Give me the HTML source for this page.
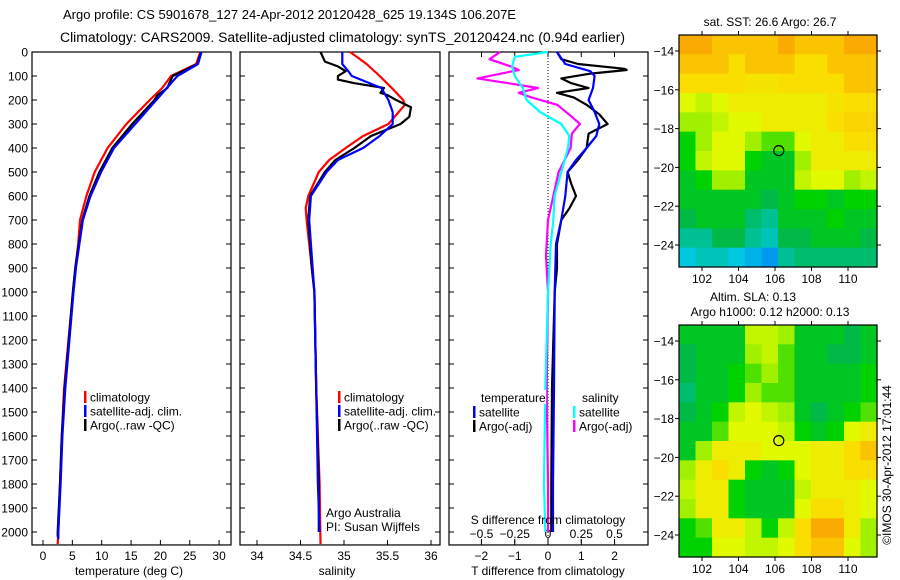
<!DOCTYPE html>
<html><head><meta charset="utf-8">
<style>
html,body{margin:0;padding:0;background:#fff;}
svg{display:block;font-family:"Liberation Sans",sans-serif;}
text{fill:#000;}
</style></head>
<body>
<svg id="fig" width="900" height="580" viewBox="0 0 900 580">
<text x="63" y="19" font-size="13" textLength="453" lengthAdjust="spacingAndGlyphs">Argo profile: CS 5901678_127 24-Apr-2012 20120428_625 19.134S 106.207E</text>
<text x="60" y="42" font-size="13.5" textLength="565" lengthAdjust="spacingAndGlyphs">Climatology: CARS2009. Satellite-adjusted climatology: synTS_20120424.nc (0.94d earlier)</text>
<g id="p1"></g>
<g id="p2"></g>
<g id="p3"></g>
<g id="m1"></g>
<g id="m2"></g>
<text transform="translate(891,465) rotate(-90)" font-size="12" text-anchor="middle">©IMOS 30-Apr-2012 17:01:44</text>
</svg>
<script>
// ---------- profile data ----------
const tClimDepth=[0,50,100,150,200,300,400,500,600,700,800,900,1000,1400,1600,1800,2000,2050];
const tClim=[26.8,26.1,21.8,20.3,18.2,14.2,11.0,8.8,7.4,6.3,6.0,5.5,5.1,3.6,3.2,2.9,2.6,2.5];
const tSatDepth=[0,50,100,200,300,400,500,600,700,800,900,1000,1400,1600,1800,2000,2030];
const tSat=[27.0,26.4,22.9,19.3,15.7,12.1,9.9,8.1,6.8,6.2,5.6,5.2,3.8,3.3,3.0,2.6,2.6];
const tArgoDepth=[0,50,100,130,150,180,200,300,400,500,600,700,800,900,1000,1400,1600,1800,2000,2020];
const tArgo=[26.9,26.3,22.1,21.5,21.2,19.5,19.0,15.2,11.8,9.6,7.9,6.7,6.1,5.5,5.1,3.7,3.2,2.9,2.5,2.5];

const sClimDepth=[0,50,100,150,200,220,300,350,400,450,500,600,650,700,1000,1400,1800,2050];
const sClim=[35.07,35.26,35.41,35.55,35.68,35.70,35.51,35.22,35.02,34.83,34.71,34.59,34.56,34.57,34.66,34.68,34.72,34.73];
const sSatDepth=[0,50,80,100,150,200,250,300,350,400,450,500,600,700,800,1000,1400,1800,2000];
const sSat=[34.98,34.98,35.05,35.09,35.43,35.51,35.56,35.56,35.41,35.22,34.93,34.80,34.62,34.60,34.62,34.66,34.68,34.70,34.72];
const sArgoDepth=[0,40,60,80,100,115,130,150,170,180,200,230,270,300,350,400,450,500,600,700,800,900,1000,1400,1800,2000];
const sArgo=[34.73,34.78,34.93,35.02,34.93,34.93,35.12,35.46,35.42,35.50,35.60,35.77,35.75,35.65,35.31,35.12,34.90,34.78,34.61,34.59,34.61,34.63,34.66,34.68,34.71,34.71];

const dTSatDepth=[0,50,80,100,150,200,250,300,350,400,450,500,600,700,800,1000,1400,1800,2000];
const dTSat=[0.27,0.52,1.27,1.40,1.35,1.22,1.40,1.54,1.45,1.16,0.84,0.59,0.52,0.40,0.24,0.20,0.18,0.15,0.15];
const dTArgoDepth=[0,30,50,70,75,90,110,130,150,170,190,220,260,300,340,400,450,500,550,600,650,700,800,900,1000,1400,1800,2000];
const dTArgo=[0.27,0.40,0.90,2.30,2.36,1.28,0.40,0.70,1.22,0.27,0.78,1.16,1.54,1.79,1.22,1.16,0.90,0.59,0.70,0.84,0.65,0.40,0.27,0.27,0.20,0.12,0.10,0.10];
const dSSatDepth=[0,20,60,100,150,200,250,300,350,400,500,600,700,800,1000,1400,1800,2000];
const dSSat=[0.0,-0.25,-0.27,-0.25,-0.19,-0.16,-0.06,0.10,0.16,0.15,0.10,0.05,0.04,0.02,0.0,-0.02,-0.03,-0.02];
const dSArgoDepth=[0,30,60,75,110,130,150,170,190,220,270,300,340,400,500,600,700,850,1000,1400,1800,2000];
const dSArgo=[-0.36,-0.44,-0.28,-0.22,-0.53,-0.30,-0.075,-0.22,-0.12,0.07,0.18,0.24,0.18,0.17,0.08,0.04,0.0,-0.015,0.0,-0.01,0.0,0.0];

const depthTicks=[0,100,200,300,400,500,600,700,800,900,1000,1100,1200,1300,1400,1500,1600,1700,1800,1900,2000];
const tTicks=[0,5,10,15,20,25,30];
const sTicks=[34,34.5,35,35.5,36];
const sTickLabels=["34","34.5","35","35.5","36"];
const dTTicks=[-2,-1,0,1,2];
const dSTicks=[-0.5,-0.25,0,0.25,0.5];
const dSTickLabels=["\u22120.5","\u22120.25","0","0.25","0.5"];

// ---------- map data (values 0..10 on colour scale) ----------
const sstGrid=[
[9,9,8.5,8.5,8.5,8.5,9,8.5,8.5,8.5,9,9],
[8.5,8.5,8.5,8,8.5,8.5,8.5,8,8,8.5,8.5,8.5],
[8,8,8,8,7.8,7.8,8,8,8,8,8.5,8.5],
[7,6.5,7,7.5,7.5,7.5,7.5,7.5,7.5,7.8,8,8],
[6,6,6.5,7,7,7.5,7.5,7.5,7.5,8,8.2,8.2],
[5,6,7,7,6,5.5,5.5,7,7.5,7.5,8,8],
[5,6.5,7,7,5,4.5,4.5,6,7.5,7.5,7.5,7.5],
[4.5,5,6,6,4.5,4.5,4.5,6.5,7,7,6,6.5],
[4.5,4.5,4.5,4.5,4.5,4,4.5,5,5,4.5,5,5],
[4,4.5,4.5,4.5,3.5,3,4.5,4.5,4.5,5,4.5,4.5],
[3,3,4,4,3,2.5,4,4,4.5,4.5,4.5,4],
[2,2.5,2.5,2,1.5,1,3,3.5,3.5,3.5,3.5,3.5]];
const slaGrid=[
[4.5,4.5,4.5,4.5,6.5,6.5,6,4.5,4.5,4.5,4,4.5],
[4,4.5,4.5,4.5,6,6.5,5.5,4.5,4.5,4,4,4.5],
[4,4.5,4.5,5,5.5,6,5.5,4.5,4.5,4.5,4.5,5],
[3.5,4.5,4.5,5,6,5.5,5.5,4.5,4.5,4.5,4.5,5],
[4,4.5,5,6.5,7,6.5,6,4.5,4,4.5,5,5.5],
[4.5,4.5,5.5,7,7,7,6.5,5,4.5,5,7,7.5],
[4.5,6,7.5,7.5,7.5,7,7,7,7.5,7.5,8,8.5],
[6,7.5,8,7.5,5,4.5,5,7,7.5,7.5,8,8],
[6.5,7.5,7.5,5,4.5,4.5,4.5,6.5,7.5,7.5,7.5,7],
[6,7.5,7.5,5,4.5,4.5,4.5,7,8,8,7.5,7],
[5,5.5,7.5,7.5,6.5,5,6.5,8,9,9,7.5,6],
[5,5,7,7,6.5,6.5,7,8,8.5,8.5,7,6]];
const lonTicks=[102,104,106,108,110];
const latTicks=[-14,-16,-18,-20,-22,-24];
const floatLon=106.207, floatLat=-19.134;

const NS='http://www.w3.org/2000/svg';
function mk(parent,tag,attrs,txt){const e=document.createElementNS(NS,tag);for(const k in attrs)e.setAttribute(k,attrs[k]);if(txt!==undefined)e.textContent=txt;parent.appendChild(e);return e;}

const Y0=52, PX_PER_DB=0.24, DMAX=2054;
const yD=d=>Y0+d*PX_PER_DB;
const PB=yD(DMAX);

function panel(g,x0,x1,leftLabels){
  const r=mk(g,'rect',{x:x0,y:Y0,width:x1-x0,height:PB-Y0,fill:'none',stroke:'#000','stroke-width':1.2});
  
  
  depthTicks.forEach(d=>{
    const y=yD(d);
    mk(g,'line',{x1:x1,x2:x1-5,y1:y,y2:y,stroke:'#000'});
    mk(g,'line',{x1:x0,x2:x0+5,y1:y,y2:y,stroke:'#000'});
    if(leftLabels){
      const t=mk(g,'text',{x:x0-4,y:y+4.5,'font-size':12,'text-anchor':'end'},String(d));
      
      
    }
  });
}
function line(g,xs,ds,xf,color,name){
  const pts=xs.map((v,i)=>xf(v).toFixed(1)+','+yD(ds[i]).toFixed(1)).join(' ');
  const p=mk(g,'polyline',{points:pts,fill:'none',stroke:color,'stroke-width':2.2,'stroke-linejoin':'round'});
  
  
}
function legend(g,x,y,items){
  items.forEach((it,i)=>{
    mk(g,'rect',{x:x,y:y+i*14-6,width:2.5,height:12,fill:it[0]});
    const t=mk(g,'text',{x:x+6,y:y+i*14+4.5,'font-size':12},it[1]);
    
    
  });
}

// Panel 1: temperature
const p1=document.getElementById('p1');
const xT=v=>43+v*5.87;
panel(p1,32,231,true);
tTicks.forEach(v=>{mk(p1,'line',{x1:xT(v),x2:xT(v),y1:PB,y2:PB-5,stroke:'#000'});
  const t=mk(p1,'text',{x:xT(v),y:PB+15,'font-size':12,'text-anchor':'middle'},String(v));
  
  });
line(p1,tClim,tClimDepth,xT,'#ff0000','temp-climatology-line');
line(p1,tArgo,tArgoDepth,xT,'#000000','temp-argo-line');
line(p1,tSat,tSatDepth,xT,'#0000ff','temp-satellite-line');
legend(p1,84,397,[['#f00','climatology'],['#00f','satellite-adj. clim.'],['#000','Argo(..raw -QC)']]);
mk(p1,'text',{x:129,y:575,'font-size':12,'text-anchor':'middle',},'temperature (deg C)');

// Panel 2: salinity
const p2=document.getElementById('p2');
const xS=v=>257+(v-34)*87;
panel(p2,240,440,false);
sTicks.forEach((v,i)=>{mk(p2,'line',{x1:xS(v),x2:xS(v),y1:PB,y2:PB-5,stroke:'#000'});
  const t=mk(p2,'text',{x:xS(v),y:PB+15,'font-size':12,'text-anchor':'middle'},sTickLabels[i]);
  
  });
line(p2,sClim,sClimDepth,xS,'#ff0000','sal-climatology-line');
line(p2,sArgo,sArgoDepth,xS,'#000000','sal-argo-line');
line(p2,sSat,sSatDepth,xS,'#0000ff','sal-satellite-line');
legend(p2,338,397,[['#f00','climatology'],['#00f','satellite-adj. clim.'],['#000','Argo(..raw -QC)']]);
mk(p2,'text',{x:326,y:517,'font-size':12,},'Argo Australia');
mk(p2,'text',{x:326,y:531,'font-size':12,},'PI: Susan Wijffels');
mk(p2,'text',{x:337,y:575,'font-size':12,'text-anchor':'middle',},'salinity');

// Panel 3: differences
const p3=document.getElementById('p3');
const xDT=v=>548+v*33.3;
const xDS=v=>548+v*133;
panel(p3,449,648,false);
mk(p3,'line',{x1:548,x2:548,y1:Y0,y2:PB,stroke:'#000','stroke-dasharray':'1,2',});
dTTicks.forEach(v=>{mk(p3,'line',{x1:xDT(v),x2:xDT(v),y1:PB,y2:PB-5,stroke:'#000'});
  const t=mk(p3,'text',{x:xDT(v),y:PB+15,'font-size':12,'text-anchor':'middle'},v<0?'\u2212'+(-v):String(v));
  
  });
dSTicks.forEach((v,i)=>{mk(p3,'line',{x1:xDS(v),x2:xDS(v),y1:Y0,y2:Y0+5,stroke:'#000'});
  mk(p3,'line',{x1:xDS(v),x2:xDS(v),y1:PB-2,y2:PB-6,stroke:'#000'});
  const t=mk(p3,'text',{x:xDS(v),y:538,'font-size':12,'text-anchor':'middle'},dSTickLabels[i]);
  
  });
line(p3,dSArgo,dSArgoDepth,xDS,'#ff00ff','sdiff-argo-line');
line(p3,dSSat,dSSatDepth,xDS,'#00ffff','sdiff-satellite-line');
line(p3,dTArgo,dTArgoDepth,xDT,'#000000','tdiff-argo-line');
line(p3,dTSat,dTSatDepth,xDT,'#0000ff','tdiff-satellite-line');
mk(p3,'rect',{x:478,y:390,width:68,height:14,fill:'#fff'});
mk(p3,'text',{x:481,y:402,'font-size':12,},'temperature');
mk(p3,'text',{x:582,y:402,'font-size':12,},'salinity');
legend(p3,473,412,[['#00f','satellite'],['#000','Argo(-adj)']]);
legend(p3,573,412,[['#0ff','satellite'],['#f0f','Argo(-adj)']]);
mk(p3,'text',{x:548,y:524,'font-size':12,'text-anchor':'middle',},'S difference from climatology');
mk(p3,'text',{x:548,y:575,'font-size':12,'text-anchor':'middle',},'T difference from climatology');

// Maps
const cstops=[[0,[0,110,255]],[2,[0,200,225]],[4,[0,185,70]],[5,[0,210,0]],[6,[160,240,0]],[7,[225,250,0]],[8,[250,222,0]],[9,[250,170,0]],[10,[240,120,0]]];
function cmap(v){for(let i=0;i<cstops.length-1;i++){const a=cstops[i],b=cstops[i+1];if(v<=b[0]){const f=Math.max(0,(v-a[0])/(b[0]-a[0]));return 'rgb('+a[1].map((c,j)=>Math.round(c+(b[1][j]-c)*f)).join(',')+')';}}return 'rgb(240,120,0)';}
function drawMap(g,grid,y0,y1){
  const x0=679,x1=877;
  const xL=lon=>702+(lon-102)*18.25;
  const yL=lat=>(y0+16)+(-14-lat)*((y1-y0)-38)/10;
  const rows=grid.length,cols=grid[0].length;
  const cw=(x1-x0)/cols,ch=(y1-y0)/rows;
  grid.forEach((row,r)=>row.forEach((v,c)=>{
    const cell=mk(g,'rect',{x:(x0+c*cw).toFixed(2),y:(y0+r*ch).toFixed(2),width:(cw+0.6).toFixed(2),height:(ch+0.6).toFixed(2),fill:cmap(v)});
    
    
  }));
  mk(g,'rect',{x:x0,y:y0,width:x1-x0,height:y1-y0,fill:'none',stroke:'#000','stroke-width':1.2});
  lonTicks.forEach(l=>{const x=xL(l);
    mk(g,'line',{x1:x,x2:x,y1:y1,y2:y1+4,stroke:'#000'});
    mk(g,'line',{x1:x,x2:x,y1:y0,y2:y0-4,stroke:'#000'});
    const t=mk(g,'text',{x:x,y:y1+16,'font-size':12,'text-anchor':'middle'},String(l));
    
    });
  latTicks.forEach(l=>{const y=yL(l);
    mk(g,'line',{x1:x0,x2:x0-4,y1:y,y2:y,stroke:'#000'});
    mk(g,'line',{x1:x1,x2:x1+4,y1:y,y2:y,stroke:'#000'});
    const t=mk(g,'text',{x:x0-5,y:y+4.5,'font-size':12,'text-anchor':'end'},'\u2212'+(-l));
    
    });
  const c=mk(g,'circle',{cx:xL(floatLon),cy:yL(floatLat),r:5,fill:'none',stroke:'#000','stroke-width':1.2});
  
  
}
const m1=document.getElementById('m1'),m2=document.getElementById('m2');
drawMap(m1,sstGrid,35,267);
drawMap(m2,slaGrid,325,557);
mk(m1,'text',{x:770,y:26,'font-size':12,'text-anchor':'middle',},'sat. SST: 26.6 Argo: 26.7');
mk(m2,'text',{x:753,y:301,'font-size':12,'text-anchor':'middle',},'Altim. SLA: 0.13');
mk(m2,'text',{x:770,y:316,'font-size':12,'text-anchor':'middle',},'Argo h1000: 0.12 h2000: 0.13');
</script>
</body></html>
